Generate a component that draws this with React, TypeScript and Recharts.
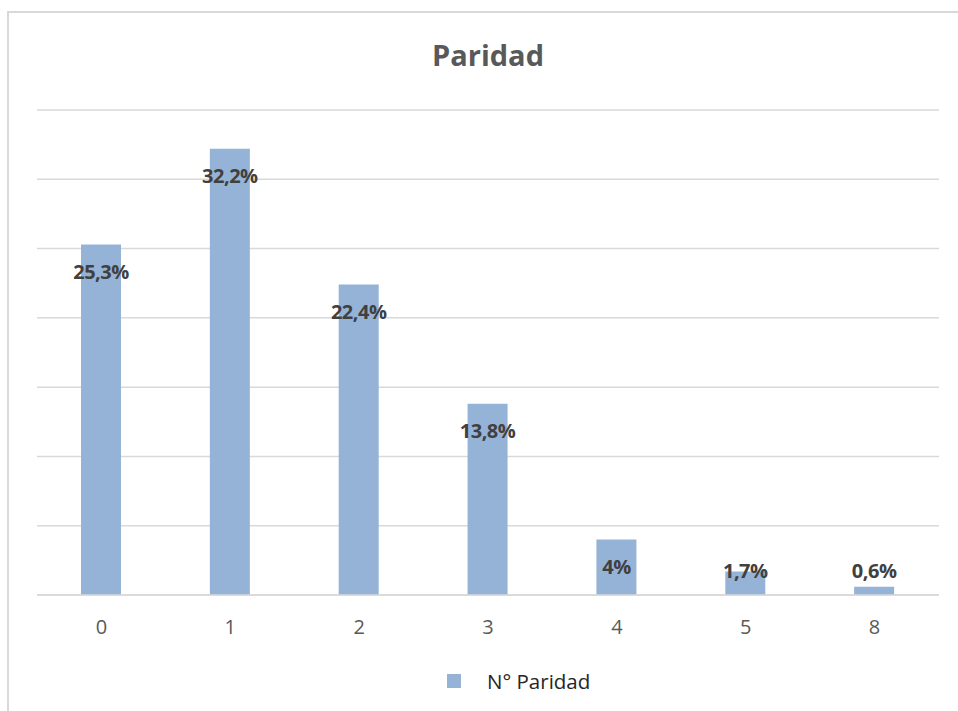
import { BarChart, Bar, XAxis, YAxis, CartesianGrid, Legend, LabelList } from 'recharts';

const categories = ['0', '1', '2', '3', '4', '5', '8'];
const percentages = [25.3, 32.2, 22.4, 13.8, 4, 1.7, 0.6];
const yTicks = [0, 5, 10, 15, 20, 25, 30, 35];

const data = categories.map((name, i) => ({ name, value: percentages[i] }));

const BAR_COLOR = '#95b3d7';
const FONT = '"Open Sans", "Noto Sans", sans-serif';

const ValueLabel = (props: any) => {
  const { x, y, width, value } = props;
  // inside end, but never lower than just above the axis
  const cy = Math.min(y + 27, 570);
  return (
    <text
      x={x + width / 2}
      y={cy}
      textAnchor="middle"
      dominantBaseline="central"
      fill="#404040"
      fontFamily={FONT}
      fontWeight={700}
      fontSize={20}
      letterSpacing={-0.5}
    >
      {String(value).replace('.', ',')}%
    </text>
  );
};

const LegendBox = () => (
  <div
    style={{
      height: 30,
      display: 'flex',
      alignItems: 'center',
      justifyContent: 'flex-start',
      paddingLeft: 410,
      fontFamily: FONT,
      fontSize: 20.5,
      color: '#262626',
    }}
  >
    <span style={{ width: 14, height: 14, background: BAR_COLOR, display: 'inline-block', marginRight: 26 }} />
    <span>N° Paridad</span>
  </div>
);

export default function App() {
  return (
    <div style={{ position: 'absolute', left: 0, top: 0, width: 958, height: 711, background: '#fff', overflow: 'hidden' }}>
      <div
        style={{
          position: 'absolute',
          left: 7,
          top: 11,
          width: 980,
          height: 720,
          borderLeft: '2px solid #d9d9d9',
          borderTop: '2px solid #d9d9d9',
        }}
      />
      <div
        style={{
          position: 'absolute',
          left: 0,
          width: 958,
          top: 35,
          textAlign: 'center',
          fontFamily: FONT,
          fontWeight: 700,
          fontSize: 29,
          color: '#595959',
          paddingLeft: 18,
          boxSizing: 'border-box',
        }}
      >
        Paridad
      </div>
      <div style={{ position: 'absolute', left: 0, top: 0 }}>
        <BarChart width={958} height={711} data={data} margin={{ top: 110, right: 19, left: 37, bottom: 15 }}>
          <CartesianGrid vertical={false} stroke="#d9d9d9" strokeWidth={1.5} />
          <XAxis
            dataKey="name"
            height={71}
            axisLine={{ stroke: '#d9d9d9', strokeWidth: 1.5 }}
            tickLine={false}
            tick={{ fill: '#595959', fontSize: 20, fontFamily: FONT }}
            tickMargin={19}
          />
          <YAxis hide domain={[0, 35]} ticks={yTicks} />
          <Bar dataKey="value" fill={BAR_COLOR} barSize={40} isAnimationActive={false}>
            <LabelList dataKey="value" content={ValueLabel} />
          </Bar>
          <Legend verticalAlign="bottom" content={<LegendBox />} />
        </BarChart>
      </div>
    </div>
  );
}
